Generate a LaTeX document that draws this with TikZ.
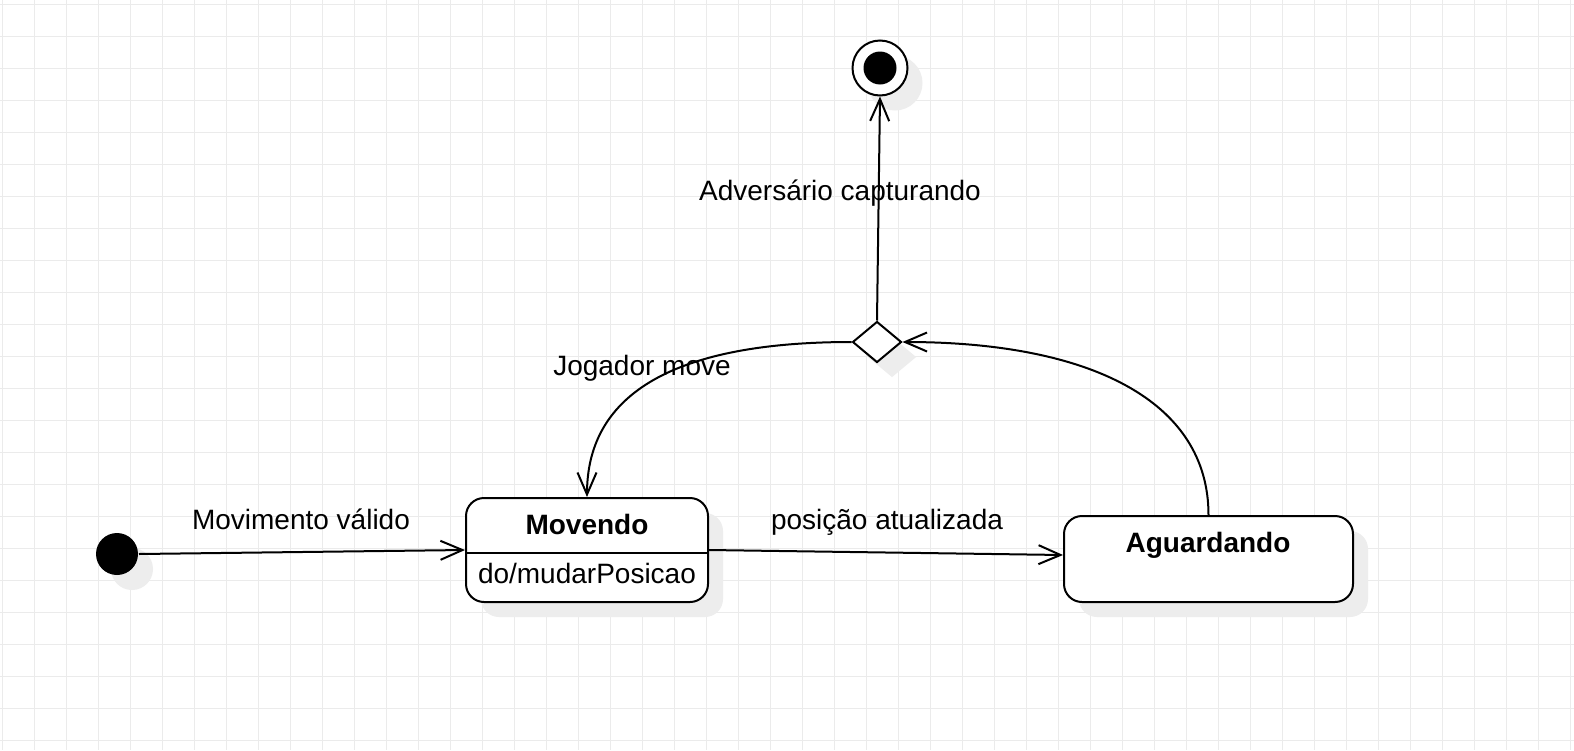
\documentclass[tikz,border=0pt]{standalone}
\usepackage{fontspec}
\setmainfont{Liberation Sans}
\usetikzlibrary{arrows.meta,shapes.geometric,shadows}

\begin{document}
\begin{tikzpicture}[x=0.5pt, y=-0.5pt, line width=1pt,
    >={Straight Barb[length=11pt,width=9.5pt]},
    castshadow/.style={drop shadow={shadow xshift=7.5pt, shadow yshift=-7.5pt, fill=black!7, opacity=1}},
    statebox/.style={draw, rounded corners=9pt, fill=white, castshadow, inner sep=0pt},
    txt/.style={font=\fontsize{14}{17}\selectfont, inner sep=0pt, anchor=base},
    boldtxt/.style={txt, font=\fontsize{14}{17}\selectfont\bfseries}]
    % background grid
    \fill[white] (0,0) rectangle (1574,750);
    \useasboundingbox (0,0) rectangle (1574,750);
    \foreach \gx in {2,34,...,1570} \draw[black!8, line width=0.5pt] (\gx,0) -- (\gx,750);
    \foreach \gy in {4,36,...,740} \draw[black!8, line width=0.5pt] (0,\gy) -- (1574,\gy);

    % states
    \node[circle, fill=black, minimum size=21pt, inner sep=0pt, castshadow] (ini) at (117,554) {};
    \node[statebox, minimum width=121pt, minimum height=52pt] (mov) at (587,550) {};
    \node[statebox, minimum width=144.5pt, minimum height=43pt] (agu) at (1208.5,559) {};
    \node[diamond, draw, fill=white, castshadow, minimum width=24.5pt, minimum height=20.5pt, inner sep=0pt] (dec) at (877,342) {};
    \node[circle, draw, fill=white, castshadow, minimum size=27.5pt, inner sep=0pt] (fin) at (880,68) {};
    \node[circle, fill=black, minimum size=16.5pt, inner sep=0pt] (finDot) at (fin) {};

    \draw ([yshift=-1.5pt]mov.west) -- ([yshift=-1.5pt]mov.east);
    \node[boldtxt] (movT) at (587,534) {Movendo};
    \node[txt, anchor=base west] (movD) at (477,583) {do/mudarPosicao};
    \node[boldtxt] (aguT) at (1208,552) {Aguardando};

    % labels
    \node[txt] (lblIni) at (301,529) {Movimento válido};
    \node[txt] (lblPos) at (887,529) {posição atualizada};
    \node[txt] (lblJog) at (642,375) {Jogador move};
    \node[txt] (lblAdv) at (840,200) {Adversário capturando};

    % transitions
    \draw[->] (ini.east) -- (mov.west);
    \draw[->] (mov.east) -- ([yshift=2pt]agu.west);
    \draw[->] (dec.north) -- (fin.south);
    \draw[->] (dec.west) .. controls +(-186,0) and +(0,-98) .. (mov.north);
    \draw[->] (agu.north) .. controls +(0,-114) and +(188,0) .. (dec.east);
\end{tikzpicture}
\end{document}
